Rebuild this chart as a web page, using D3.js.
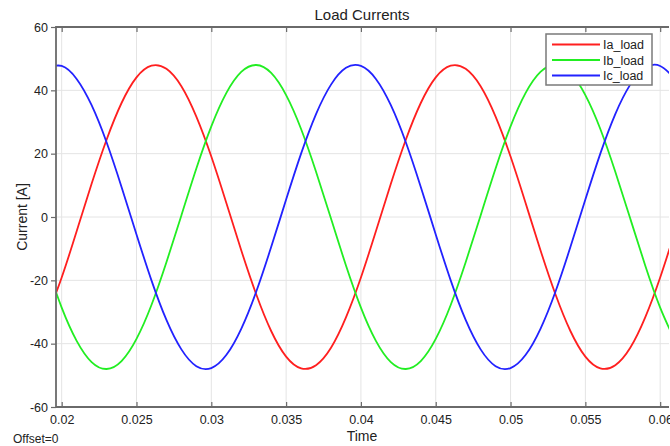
<!DOCTYPE html>
<html>
<head>
<meta charset="utf-8">
<script src="https://cdn.jsdelivr.net/npm/d3@7"></script>
<style>
  html, body { margin: 0; padding: 0; background: #ffffff; }
  svg { display: block; font-family: "Liberation Sans", Arial, sans-serif; }
</style>
</head>
<body>
<svg id="chart" width="670" height="446"></svg>
<script>
// Sample times [s]
const time = [
  0.019, 0.020, 0.021, 0.022, 0.023, 0.024, 0.025, 0.026, 0.027, 0.028,
  0.029, 0.030, 0.031, 0.032, 0.033, 0.034, 0.035, 0.036, 0.037, 0.038,
  0.039, 0.040, 0.041, 0.042, 0.043, 0.044, 0.045, 0.046, 0.047, 0.048,
  0.049, 0.050, 0.051, 0.052, 0.053, 0.054, 0.055, 0.056, 0.057, 0.058,
  0.059, 0.060, 0.061
];

// Phase currents [A]
const iaLoad = [
  -31.7, -19.1, -4.5, 10.5, 24.4, 36.0, 44.1, 47.8, 46.8, 41.3,
  31.7, 19.1, 4.5, -10.5, -24.4, -36.0, -44.1, -47.8, -46.8, -41.3,
  -31.7, -19.1, -4.5, 10.5, 24.4, 36.0, 44.1, 47.8, 46.8, 41.3,
  31.7, 19.1, 4.5, -10.5, -24.4, -36.0, -44.1, -47.8, -46.8, -41.3,
  -31.7, -19.1, -4.5
];
const ibLoad = [
  -15.3, -28.6, -39.1, -45.8, -48.0, -45.5, -38.5, -27.8, -14.3, 0.5,
  15.3, 28.6, 39.1, 45.8, 48.0, 45.5, 38.5, 27.8, 14.3, -0.5,
  -15.3, -28.6, -39.1, -45.8, -48.0, -45.5, -38.5, -27.8, -14.3, 0.5,
  15.3, 28.6, 39.1, 45.8, 48.0, 45.5, 38.5, 27.8, 14.3, -0.5,
  -15.3, -28.6, -39.1
];
const icLoad = [
  47.1, 47.7, 43.6, 35.3, 23.6, 9.5, -5.5, -20.0, -32.5, -41.8,
  -47.1, -47.7, -43.6, -35.3, -23.6, -9.5, 5.5, 20.0, 32.5, 41.8,
  47.1, 47.7, 43.6, 35.3, 23.6, 9.5, -5.5, -20.0, -32.5, -41.8,
  -47.1, -47.7, -43.6, -35.3, -23.6, -9.5, 5.5, 20.0, 32.5, 41.8,
  47.1, 47.7, 43.6
];

const seriesNames = ["Ia_load", "Ib_load", "Ic_load"];
const seriesColors = ["#ff1f1f", "#22ee22", "#2222ff"];

const xTicks = [0.02, 0.025, 0.03, 0.035, 0.04, 0.045, 0.05, 0.055, 0.06];
const xTickLabels = ["0.02", "0.025", "0.03", "0.035", "0.04", "0.045", "0.05", "0.055", "0.06"];
const yTicks = [-60, -40, -20, 0, 20, 40, 60];
const yTickLabels = ["-60", "-40", "-20", "0", "20", "40", "60"];

const xDomain = [0.01962, 0.06059];
const yDomain = [-60, 60];

// Layout
const plot = { left: 56, right: 669, top: 27, bottom: 407 };

const svg = d3.select("#chart");

const x = d3.scaleLinear().domain(xDomain).range([plot.left, plot.right]);
const y = d3.scaleLinear().domain(yDomain).range([plot.bottom, plot.top]);

// Grid
const grid = svg.append("g").attr("class", "grid");
grid.selectAll("line.gx").data(xTicks).join("line")
  .attr("x1", d => x(d)).attr("x2", d => x(d))
  .attr("y1", plot.top).attr("y2", plot.bottom)
  .attr("stroke", "#e4e4e4").attr("stroke-width", 1);
grid.selectAll("line.gy").data(yTicks).join("line")
  .attr("x1", plot.left).attr("x2", plot.right)
  .attr("y1", d => y(d)).attr("y2", d => y(d))
  .attr("stroke", "#e4e4e4").attr("stroke-width", 1);

// Curves
svg.append("clipPath").attr("id", "plot-clip")
  .append("rect")
  .attr("x", plot.left).attr("y", plot.top)
  .attr("width", plot.right - plot.left).attr("height", plot.bottom - plot.top);

const series = [iaLoad, ibLoad, icLoad].map((vals, i) => ({
  name: seriesNames[i],
  color: seriesColors[i],
  points: time.map((t, j) => [t, vals[j]])
}));

const line = d3.line()
  .x(d => x(d[0]))
  .y(d => y(d[1]))
  .curve(d3.curveNatural);

svg.append("g").attr("clip-path", "url(#plot-clip)")
  .selectAll("path").data(series).join("path")
  .attr("d", d => line(d.points))
  .attr("fill", "none")
  .attr("stroke", d => d.color)
  .attr("stroke-width", 1.8)
  .attr("stroke-linejoin", "round");

// Axes with inward ticks
const axisColor = "#6a6a6a";
const bottomAxis = d3.axisBottom(x).tickValues(xTicks)
  .tickFormat((d, i) => xTickLabels[i]).tickSize(-5).tickPadding(8);
const topAxis = d3.axisTop(x).tickValues(xTicks)
  .tickFormat("").tickSize(-5);
const leftAxis = d3.axisLeft(y).tickValues(yTicks)
  .tickFormat((d, i) => yTickLabels[i]).tickSize(5).tickPadding(3);

function styleAxis(g) {
  g.select(".domain").remove();
  g.selectAll(".tick line").attr("stroke", axisColor).attr("stroke-width", 1.2);
  g.selectAll(".tick text").attr("fill", "#222").attr("font-size", "12.5px")
    .attr("font-family", "'Liberation Sans', Arial, sans-serif");
}

svg.append("g").attr("transform", `translate(0,${plot.bottom})`).call(bottomAxis).call(styleAxis);
svg.append("g").attr("transform", `translate(0,${plot.top})`).call(topAxis).call(styleAxis);
const yAxisG = svg.append("g").attr("transform", `translate(${plot.left},0)`).call(leftAxis).call(styleAxis);
// left-axis ticks sit on the outside, like the tick marks on the frame
yAxisG.selectAll(".tick line").attr("x1", -5).attr("x2", 0);

// Frame
svg.append("path")
  .attr("d", `M${plot.right},${plot.top}H${plot.left}V${plot.bottom}H${plot.right}`)
  .attr("fill", "none").attr("stroke", axisColor).attr("stroke-width", 1.8);

// Titles
svg.append("text")
  .attr("x", 362).attr("y", 20)
  .attr("text-anchor", "middle").attr("font-size", "15px").attr("fill", "#222")
  .text("Load Currents");

svg.append("text")
  .attr("transform", `translate(27,${(plot.top + plot.bottom) / 2}) rotate(-90)`)
  .attr("text-anchor", "middle").attr("font-size", "14px").attr("fill", "#222")
  .text("Current [A]");

svg.append("text")
  .attr("x", 362).attr("y", 441)
  .attr("text-anchor", "middle").attr("font-size", "14px").attr("fill", "#222")
  .text("Time");

svg.append("text")
  .attr("x", 13).attr("y", 443)
  .attr("font-size", "12px").attr("fill", "#222")
  .text("Offset=0");

// Legend
const legend = svg.append("g").attr("class", "legend");
legend.append("rect")
  .attr("x", 546).attr("y", 34).attr("width", 106).attr("height", 51)
  .attr("fill", "#ffffff").attr("stroke", "#7a7a7a").attr("stroke-width", 1.5);

const rowY = [44.5, 60, 75.5];
const rows = legend.selectAll("g.row").data(series).join("g")
  .attr("class", "row")
  .attr("transform", (d, i) => `translate(0,${rowY[i]})`);
rows.append("line")
  .attr("x1", 552).attr("x2", 600).attr("y1", 0).attr("y2", 0)
  .attr("stroke", d => d.color).attr("stroke-width", 1.8);
rows.append("text")
  .attr("x", 603).attr("y", 4.5)
  .attr("font-size", "12.5px").attr("fill", "#222")
  .text(d => d.name);
</script>
</body>
</html>
